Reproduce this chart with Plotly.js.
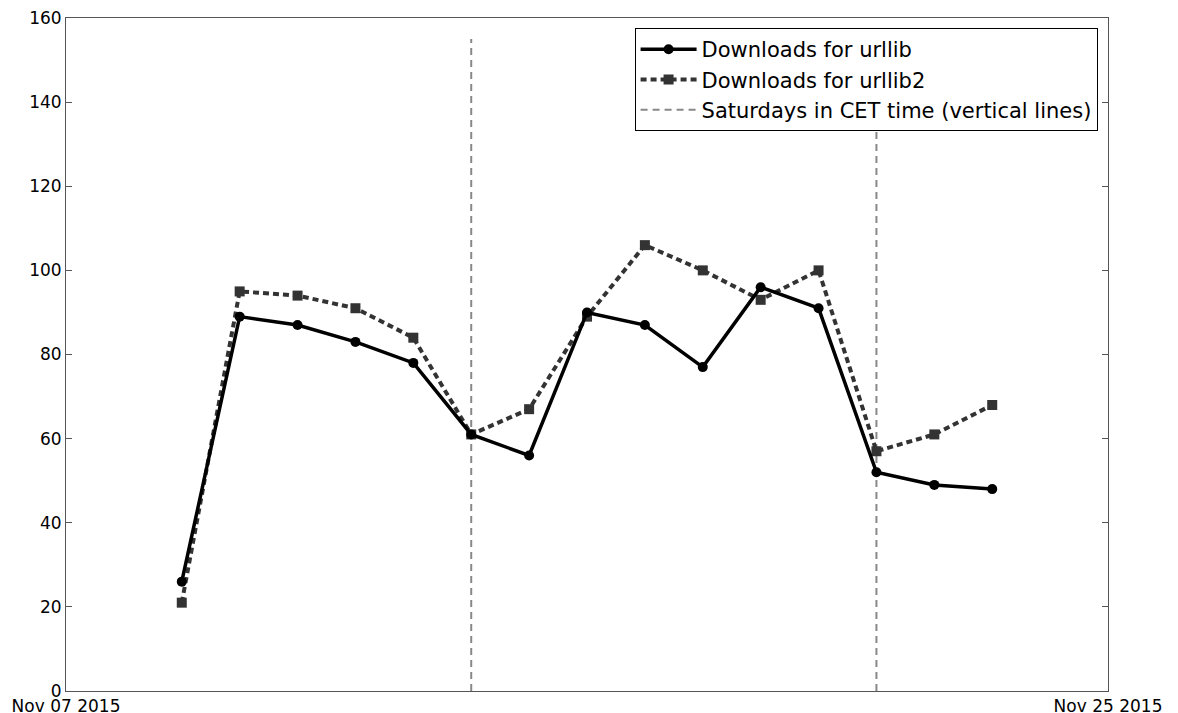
<!DOCTYPE html>
<html>
<head>
<meta charset="utf-8">
<script src="https://cdn.plot.ly/plotly-3.0.1.min.js"></script>
<style>html,body{margin:0;padding:0;background:#fff;}#chart{width:1178px;height:713px;}</style>
</head>
<body>
<div id="chart"></div>
<script>
const dates = ["2015-11-09","2015-11-10","2015-11-11","2015-11-12","2015-11-13","2015-11-14","2015-11-15","2015-11-16","2015-11-17","2015-11-18","2015-11-19","2015-11-20","2015-11-21","2015-11-22","2015-11-23"];
const urllib = [26, 89, 87, 83, 78, 61, 56, 90, 87, 77, 96, 91, 52, 49, 48];
const urllib2 = [21, 95, 94, 91, 84, 61, 67, 89, 106, 100, 93, 100, 57, 61, 68];
const saturdays = ["2015-11-14", "2015-11-21"];
const saturdayLineTop = 155;
const xTickVals = ["2015-11-07", "2015-11-25"];
const xTickText = ["Nov 07 2015", "Nov 25 2015"];
const yTickVals = [0, 20, 40, 60, 80, 100, 120, 140, 160];

const satX = [], satY = [];
saturdays.forEach((d, i) => {
  if (i > 0) { satX.push(null); satY.push(null); }
  satX.push(d, d); satY.push(0, saturdayLineTop);
});

const traces = [
  {x: satX, y: satY, mode: 'lines', name: 'Saturdays in CET time (vertical lines)',
   line: {color: '#888888', width: 2, dash: '7px,5px'}},
  {x: dates, y: urllib2, mode: 'lines+markers', name: 'Downloads for urllib2',
   line: {color: '#333333', width: 4, dash: '6px,4px'},
   marker: {symbol: 'square', size: 10, color: '#333333'}},
  {x: dates, y: urllib, mode: 'lines+markers', name: 'Downloads for urllib',
   line: {color: '#000000', width: 3.5},
   marker: {symbol: 'circle', size: 10, color: '#000000'}}
];

const layout = {
  width: 1178, height: 713,
  margin: {l: 66, r: 70, t: 18, b: 22},
  paper_bgcolor: '#fff', plot_bgcolor: '#fff',
  font: {family: 'DejaVu Sans', size: 17, color: '#000'},
  showlegend: true,
  legend: {x: 0.990, y: 0.985, xanchor: 'right', yanchor: 'top',
           bordercolor: '#000', borderwidth: 1, bgcolor: '#fff',
           font: {size: 21, family: 'DejaVu Sans'}, traceorder: 'reversed',
           itemwidth: 56, tracegroupgap: 0},
  xaxis: {type: 'date', range: ['2015-11-07', '2015-11-25'],
          tickvals: xTickVals, ticktext: xTickText,
          showgrid: false, zeroline: false, showline: true, linecolor: '#555', linewidth: 1,
          mirror: 'ticks', ticks: 'inside', ticklen: 6, tickcolor: '#555',
          tickfont: {size: 17}},
  yaxis: {range: [0, 160], tickvals: yTickVals,
          showgrid: false, zeroline: false, showline: true, linecolor: '#555', linewidth: 1,
          mirror: 'ticks', ticks: 'inside', ticklen: 6, tickcolor: '#555',
          tickfont: {size: 17}}
};

Plotly.newPlot('chart', traces, layout, {displayModeBar: false, staticPlot: true});
</script>
</body>
</html>
